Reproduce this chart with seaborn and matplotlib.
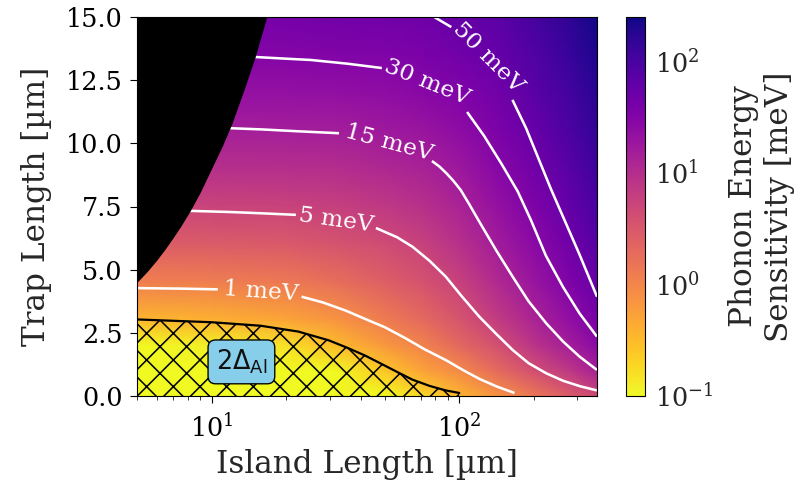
import numpy as np
import matplotlib
matplotlib.use("Agg")
import matplotlib.pyplot as plt
from matplotlib.colors import LogNorm
from matplotlib.ticker import LogLocator
import matplotlib.cm as cm
import seaborn as sns

# ---------------- data ----------------
island_um = [5, 10, 20, 31.6, 50, 70.8, 100, 141, 200, 282, 360]
trap_um = [0, 1, 2, 3, 4.5, 6, 7.5, 9, 10.5, 12, 13.5, 15]
# log10(sensitivity / meV); one row per trap length, one column per island length
log10_sensitivity = [
    [-3.0, -2.5, -1.85, -1.45, -1.05, -0.747, -0.447, -0.147, 0.153, 0.453, 0.665],
    [-1.89, -1.83, -1.5, -1.15, -0.6, -0.29, -0.04, 0.28, 0.6, 0.89, 1.16],
    [-0.99, -0.93, -0.81, -0.5, -0.19, 0.033, 0.318, 0.58, 0.913, 1.198, 1.418],
    [-0.46, -0.406, -0.3, -0.16, 0.09, 0.297, 0.533, 0.812, 1.098, 1.37, 1.582],
    [0.068, 0.087, 0.14, 0.246, 0.412, 0.562, 0.762, 1.039, 1.289, 1.546, 1.758],
    [0.443, 0.451, 0.482, 0.545, 0.64, 0.765, 0.959, 1.202, 1.428, 1.674, 1.88],
    [0.734, 0.733, 0.751, 0.789, 0.865, 0.962, 1.111, 1.335, 1.547, 1.779, 1.98],
    [0.971, 0.97, 0.983, 1.003, 1.065, 1.124, 1.255, 1.445, 1.653, 1.873, 2.077],
    [1.172, 1.17, 1.178, 1.186, 1.237, 1.289, 1.395, 1.552, 1.747, 1.961, 2.168],
    [1.346, 1.339, 1.347, 1.359, 1.389, 1.448, 1.523, 1.651, 1.843, 2.044, 2.232],
    [1.50, 1.488, 1.495, 1.512, 1.53, 1.572, 1.652, 1.743, 1.925, 2.125, 2.315],
    [1.637, 1.622, 1.628, 1.649, 1.655, 1.677, 1.766, 1.83, 2.01, 2.203, 2.368],
]

# excluded (black) region boundary
black_x = [5.0, 5.5, 6.0, 6.5, 7.0, 7.5, 8.2, 9.0, 10, 11, 12.05, 13.5, 15, 16.7]
black_y = [4.5, 4.93, 5.37, 5.82, 6.27, 6.71, 7.33, 8.06, 9.0, 9.85, 10.75, 12.1, 13.42, 15.0]

# 2*Delta_Al boundary (hatched region below)
gap_x = [5.0, 10, 15.8, 22.4, 29.8, 35.5, 41.7, 49, 56.2, 64.6, 75.9, 88.3, 100]
gap_y = [3.03, 2.92, 2.78, 2.55, 2.2, 1.9, 1.6, 1.25, 0.95, 0.65, 0.4, 0.22, 0.12]

# contour lines (segments left / right of the inline label)
c1_left_x = [5.0, 7.5, 10.6]
c1_left_y = [4.27, 4.25, 4.22]
c1_right_x = [23.1, 28.2, 34.8, 41.7, 50.1, 60.3, 72.4, 88.3, 104.7, 120.5, 141.3, 167.1]
c1_right_y = [3.93, 3.7, 3.38, 3.05, 2.72, 2.3, 1.85, 1.42, 1.0, 0.68, 0.38, 0.12]

c5_left_x = [8.0, 12, 16, 21.9]
c5_left_y = [7.33, 7.28, 7.23, 7.17]
c5_right_x = [46.1, 56.2, 64.7, 75.9, 88.3, 102.3, 120.5, 141.3, 164.4, 190.5, 224.4, 263, 309, 360]
c5_right_y = [6.65, 6.28, 5.91, 5.35, 4.72, 3.95, 3.14, 2.45, 1.82, 1.3, 0.9, 0.6, 0.38, 0.22]

c15_left_x = [11.8, 16, 22, 32.7]
c15_left_y = [10.6, 10.55, 10.48, 10.4]
c15_right_x = [77.6, 83.2, 89.1, 95.0, 101.4, 109.6, 120.5, 141.3, 164.4, 190.5, 224.4, 263, 306, 360]
c15_right_y = [9.3, 9.08, 8.8, 8.5, 8.15, 7.6, 6.9, 5.75, 4.72, 3.75, 2.88, 2.15, 1.56, 1.03]

c30_left_x = [14.8, 20, 25.1, 35.5, 48.7]
c30_left_y = [13.42, 13.35, 13.3, 13.15, 12.98]
c30_right_x = [107.6, 125.9, 147.9, 172.2, 195, 223.9, 263, 306, 360]
c30_right_y = [11.24, 10.3, 9.2, 8.1, 6.95, 5.55, 4.3, 3.27, 2.35]

c50_left_x = [77.0, 79.3, 92.9]
c50_left_y = [15.1, 15.0, 14.6]
c50_right_x = [164, 186.2, 208.9, 234.4, 269.2, 306, 360]
c50_right_y = [11.72, 10.6, 9.4, 8.2, 6.85, 5.6, 3.93]

contour_labels = ["1 meV", "5 meV", "15 meV", "30 meV", "50 meV"]
label_x = [15.9, 31.8, 52.1, 74.1, 131]
label_y = [4.15, 6.95, 10.0, 12.43, 13.38]
label_rot = [-4, -8, -15, -22, -45]

gap_label = r"$2\Delta_{\mathrm{Al}}$"
gap_label_x, gap_label_y = 13.2, 1.35

# ---------------- styling ----------------
sns.set_style("ticks")
plt.rcParams["font.family"] = ["DejaVu Serif"]
plt.rcParams["mathtext.fontset"] = "dejavusans"
plt.rcParams["hatch.linewidth"] = 1.4
plt.rcParams["axes.linewidth"] = 1.0

DPI = 80
fig = plt.figure(figsize=(802 / DPI, 483 / DPI), dpi=DPI)
ax = fig.add_axes([137 / 802, 87 / 483, 460 / 802, 379 / 483])
cax = fig.add_axes([626 / 802, 87 / 483, 19 / 802, 379 / 483])

cmap = sns.color_palette("plasma_r", as_cmap=True)
norm = LogNorm(vmin=0.1, vmax=250)

X, Y = np.meshgrid(island_um, trap_um)
C = 10.0 ** np.array(log10_sensitivity)
ax.pcolormesh(X, Y, C, shading="gouraud", cmap=cmap, norm=norm, zorder=0,
              rasterized=True)

line_kw = dict(color="white", lw=2.3, solid_capstyle="butt", zorder=2)
for xs, ys in [(c1_left_x, c1_left_y), (c1_right_x, c1_right_y),
               (c5_left_x, c5_left_y), (c5_right_x, c5_right_y),
               (c15_left_x, c15_left_y), (c15_right_x, c15_right_y),
               (c30_left_x, c30_left_y), (c30_right_x, c30_right_y),
               (c50_left_x, c50_left_y), (c50_right_x, c50_right_y)]:
    ax.plot(xs, ys, **line_kw)

for t, lx, ly, r in zip(contour_labels, label_x, label_y, label_rot):
    ax.text(lx, ly, t, color="white", fontsize=21, rotation=r,
            ha="center", va="center", rotation_mode="anchor", zorder=2)

# hatched 2*Delta region
ax.fill_between(gap_x, 0, gap_y, facecolor="none", edgecolor="black",
                hatch="x", linewidth=0, zorder=3)
ax.plot(gap_x, gap_y, color="black", lw=2.0, zorder=3)
ax.text(gap_label_x, gap_label_y, gap_label, fontsize=23, ha="center", va="center",
        color="#111111", zorder=5,
        bbox=dict(boxstyle="round,pad=0.3", facecolor="#87ceeb",
                  edgecolor="black", linewidth=1.2))

# black excluded region
ax.fill_between(black_x, black_y, 15, color="black", linewidth=0, zorder=4)

ax.set_xscale("log")
ax.set_xlim(5, 360)
ax.set_ylim(0, 15)
ax.set_yticks([0, 2.5, 5, 7.5, 10, 12.5, 15])
ax.set_xlabel("Island Length [µm]", fontsize=28, labelpad=6)
ax.set_ylabel("Trap Length [µm]", fontsize=28, labelpad=12)
ax.tick_params(axis="both", which="major", labelsize=23, direction="out",
               length=6, width=1.0, colors="black", pad=7)
ax.tick_params(axis="x", which="major", pad=10)
ax.tick_params(axis="x", which="minor", direction="out", length=3.5, width=0.8)
for s in ax.spines.values():
    s.set_visible(True)
    s.set_color("black")

sm = cm.ScalarMappable(norm=norm, cmap=cmap)
cb = fig.colorbar(sm, cax=cax)
cb.ax.yaxis.set_minor_locator(LogLocator(base=10, subs=range(2, 10)))
cb.set_label("Phonon Energy\nSensitivity [meV]", fontsize=28, labelpad=13)
cb.ax.tick_params(which="major", labelsize=23, length=6, width=1.0,
                  direction="in", pad=9)
cb.ax.tick_params(which="minor", length=3.5, width=0.8, direction="in")
cb.outline.set_edgecolor("black")
cb.outline.set_linewidth(1.0)

fig.savefig("out.png", dpi=DPI)
